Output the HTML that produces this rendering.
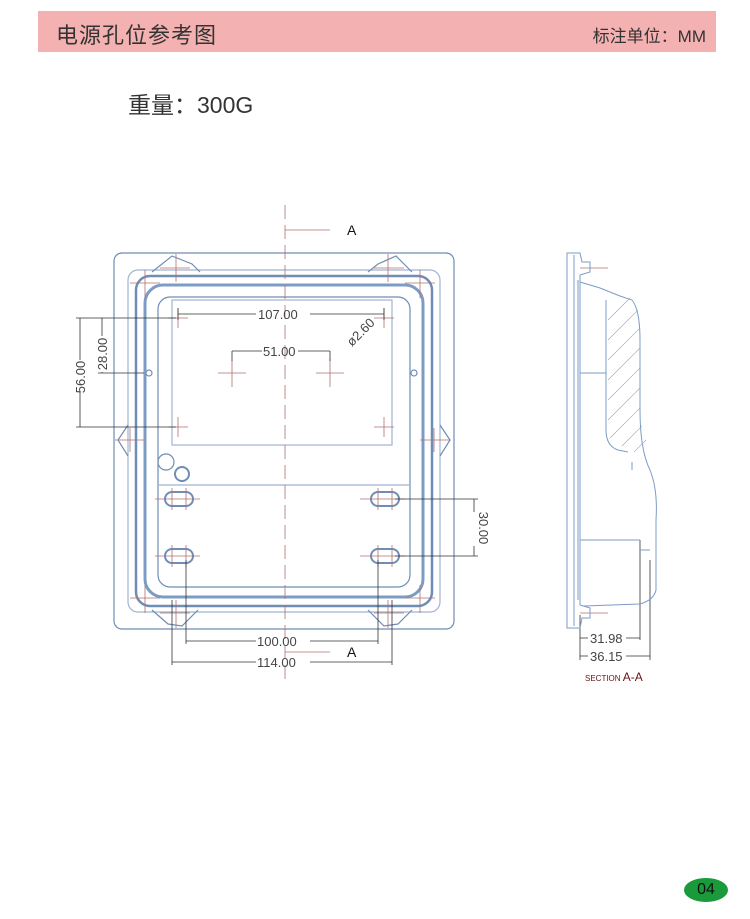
<!DOCTYPE html>
<html><head><meta charset="utf-8"><style>
body{margin:0;width:750px;height:919px;background:#fff;overflow:hidden;position:relative;font-family:"Liberation Sans","Noto Sans CJK SC",sans-serif}
.bar{position:absolute;left:38px;top:11px;width:678px;height:41px;background:#f4b1b1}
.t1{position:absolute;left:56px;top:18px;font-size:22px;color:#333;letter-spacing:1px}
.t2{position:absolute;right:44px;top:22px;font-size:17px;color:#333}
.w{position:absolute;left:128px;top:86px;font-size:23px;color:#333}
.pg{position:absolute;left:684px;top:878px;width:44px;height:24px;border-radius:50%;background:#1a9a3a;color:#111;font-size:16px;text-align:center;line-height:24px}
</style></head><body>
<div class="bar"></div>
<div class="t1">电源孔位参考图</div>
<div class="t2">标注单位：MM</div>
<div class="w">重量：300G</div>
<svg width="750" height="919" style="position:absolute;left:0;top:0" font-family="Liberation Sans, sans-serif">
<g fill="none" stroke="#6f8db5" stroke-width="1.2">
<rect x="114" y="253" width="340" height="376" rx="8"/>
<rect x="128" y="270" width="312" height="342" rx="10" stroke="#9fb4d0"/>
<rect x="136" y="276" width="296" height="330" rx="14" stroke-width="2.5"/>
<rect x="145" y="285" width="278" height="312" rx="18" stroke-width="3" stroke="#7d9cc4"/>
<rect x="158" y="297" width="252" height="290" rx="12"/>
<rect x="172" y="300" width="220" height="145" stroke="#9fb4d0"/>
<line x1="158" y1="485" x2="410" y2="485" stroke="#9fb4d0"/>
<path d="M152 272 L172 256 L192 264 L200 272 M368 272 L378 264 L396 256 L412 272"/>
<path d="M152 610 L168 624 L182 626 L198 610 M368 610 L384 626 L398 624 L412 610"/>
<path d="M128 425 L118 440 L128 456 M440 425 L450 440 L440 456"/>
<rect x="165" y="492" width="28" height="14" rx="7" stroke-width="2"/>
<rect x="165" y="549" width="28" height="14" rx="7" stroke-width="2"/>
<rect x="371" y="492" width="28" height="14" rx="7" stroke-width="2"/>
<rect x="371" y="549" width="28" height="14" rx="7" stroke-width="2"/>
<circle cx="166" cy="462" r="8"/><circle cx="182" cy="474" r="7" stroke-width="2"/>
<circle cx="149" cy="373" r="3"/><circle cx="414" cy="373" r="3"/>
</g>
<g stroke="#b07070" stroke-width="0.8" fill="none">
<line x1="285" y1="205" x2="285" y2="680" stroke-dasharray="14 6"/>
<path d="M168 318h20M178 308v20M374 318h20M384 308v20M168 427h20M178 417v20M374 427h20M384 417v20"/>
<path d="M218 373h28M232 359v28M316 373h28M330 359v28"/>
<path d="M160 268h30M176 254v28M374 268h30M388 254v28M130 283h30M145 270v28M405 283h30M420 270v28"/>
<path d="M160 613h30M176 600v28M374 613h30M388 600v28M130 598h30M145 585v28M405 598h30M420 585v28"/>
<path d="M115 440h30M130 428v24M420 440h30M434 428v24"/>
<path d="M155 499h45M172 488v22M186 488v22M360 499h45M378 488v22M392 488v22"/>
<path d="M155 556h45M172 545v22M186 545v22M360 556h45M378 545v22M392 545v22"/>
<line x1="285" y1="230" x2="330" y2="230"/><line x1="285" y1="652" x2="330" y2="652"/>
<line x1="580" y1="268" x2="608" y2="268"/><line x1="580" y1="613" x2="608" y2="613"/>
</g>
<g stroke="#333" stroke-width="0.8" fill="none">
<path d="M178 314H256M310 314H384M178 308v12M384 308v12"/>
<path d="M232 351H262M298 351H330M232 351v10M330 351v10"/>
<path d="M80 318V360M80 392V427M76 318h100M76 427h100"/>
<path d="M102 318V336M102 372V373M98 373h46"/>
<path d="M474 499V512M474 546V556M395 499h83M395 556h83"/>
<path d="M186 641H256M310 641H378M186 560v84M378 560v84"/>
<path d="M172 662H256M310 662H392M172 600v65M392 600v65"/>
<path d="M580 638H588M626 638H640M580 656H588M626 656H650M580 615v45M640 540v100M650 560v100"/>
</g>
<g font-size="13" fill="#444">
<text x="258" y="319">107.00</text>
<text x="263" y="356">51.00</text>
<text x="257" y="646">100.00</text>
<text x="257" y="667">114.00</text>
<text transform="translate(85,377) rotate(-90)" text-anchor="middle">56.00</text>
<text transform="translate(107,354) rotate(-90)" text-anchor="middle">28.00</text>
<text transform="translate(479,528) rotate(90)" text-anchor="middle">30.00</text>
<text transform="translate(352,347) rotate(-45)">ø2.60</text>
<text x="590" y="643">31.98</text>
<text x="590" y="661">36.15</text>
</g>
<text x="347" y="235" font-size="14" fill="#111">A</text>
<text x="347" y="657" font-size="14" fill="#111">A</text>
<text x="585" y="681" font-size="8" fill="#6a1010">SECTION <tspan font-size="12">A-A</tspan></text>
<g fill="none" stroke="#7d9cc4" stroke-width="1">
<path d="M567 253 L580 253 L582 262 L590 262 L590 272 L580 275 L580 605 L590 608 L590 618 L582 618 L580 628 L567 628 Z"/>
<path d="M574 255 V626 M578 280 V600"/>
<path d="M580 282 L600 288 L620 296 L632 300 Q640 310 640 340 L640 410 Q640 450 650 470 Q658 490 656 520 L656 590 Q654 600 640 604 L584 606"/>
<path d="M606 300 L606 430 Q606 446 618 450 L628 452"/>
<path d="M580 373 H606 M580 540 H640 M640 550 H650 M632 462 V470"/>
</g>
<g stroke="#8fa5c4" stroke-width="0.6">
<path d="M608 320 L630 298 M608 340 L638 310 M608 360 L640 328 M608 380 L640 348 M608 400 L640 368 M608 420 L640 388 M610 438 L640 408 M622 446 L642 426 M634 452 L646 440"/>
</g>
</svg>
<div class="pg">04</div>
</body></html>
